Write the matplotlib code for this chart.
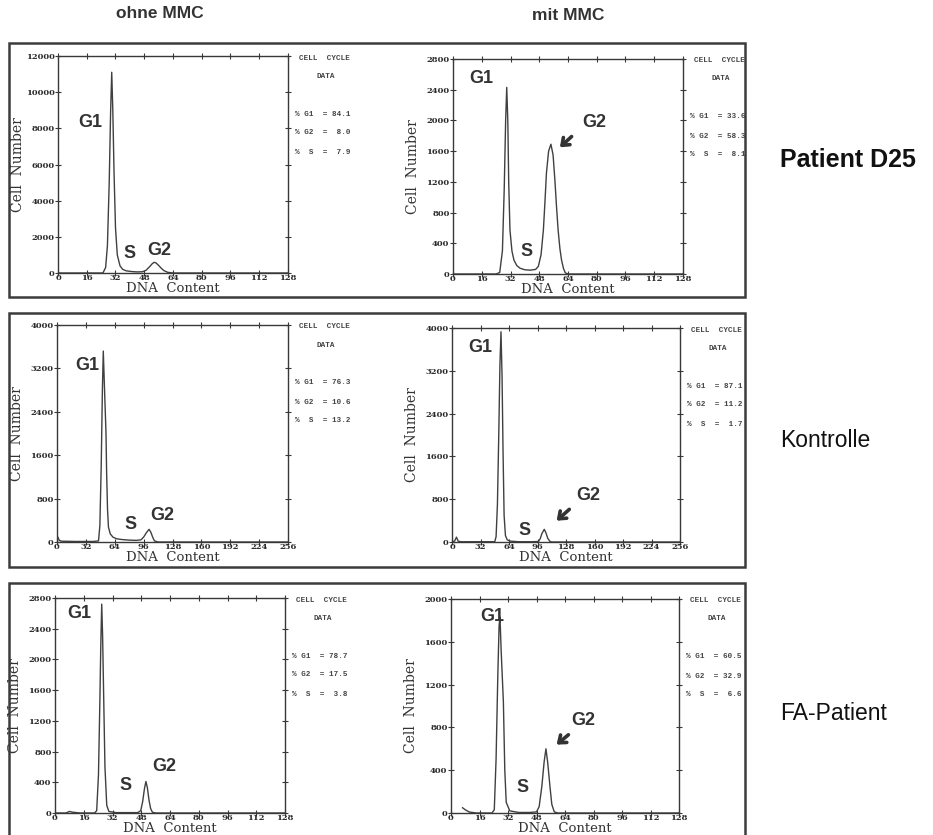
import matplotlib
matplotlib.use("Agg")
import matplotlib.pyplot as plt
from matplotlib.patches import Rectangle

# DNA histograms (channel, cell count) for each condition
d25_ohne_x = [0, 20, 25, 26.5, 27.5, 28.5, 29.3, 29.9, 30.5, 31.2, 32, 33, 34.5, 36, 38, 41, 44, 47, 49, 51, 52.5, 53.5, 54.5, 56, 57.5, 59, 61, 64, 128]
d25_ohne_y = [0, 0, 0, 300, 1500, 5000, 9000, 11100, 9000, 5500, 2500, 1000, 400, 200, 120, 80, 60, 70, 150, 350, 520, 590, 560, 420, 260, 130, 40, 0, 0]

d25_mit_x = [0, 24, 26, 27.5, 28.5, 29.3, 29.9, 30.5, 31, 31.7, 32.8, 33.9, 35.5, 37.3, 40, 43, 46, 47.5, 49, 50.3, 51.2, 52, 53.2, 54.5, 55.7, 56.7, 57.6, 58.5, 59.5, 60.4, 61.5, 62.5, 64, 128]
d25_mit_y = [0, 0, 20, 300, 1100, 2000, 2430, 2000, 1200, 573, 300, 182, 110, 75, 55, 50, 60, 100, 250, 573, 950, 1315, 1600, 1690, 1550, 1224, 880, 573, 330, 182, 70, 15, 0, 0]

ktr_ohne_x = [0, 1, 2.5, 5, 20, 40, 46, 47.5, 49, 50.3, 51.3, 52.3, 53.3, 54.3, 55, 56, 57, 59, 62, 66, 72, 80, 88, 93, 96, 99, 102, 104, 106, 108, 112, 256]
ktr_ohne_y = [60, 90, 30, 15, 10, 10, 20, 300, 1400, 2800, 3520, 3000, 2500, 2009, 1270, 600, 276, 150, 90, 60, 45, 35, 30, 40, 90, 170, 234, 180, 90, 20, 0, 0]

ktr_mit_x = [0, 3, 5, 7, 10, 30, 48, 49.5, 51, 52.5, 53.8, 55, 56.2, 57.3, 58.5, 60, 62, 66, 75, 90, 97, 99, 101, 103.6, 105.5, 107.5, 110, 112, 256]
ktr_mit_y = [0, 20, 90, 15, 5, 5, 5, 100, 700, 2000, 3300, 3930, 3100, 1700, 500, 120, 40, 15, 5, 5, 10, 60, 160, 237, 170, 70, 10, 0, 0]

fa_ohne_x = [0, 6, 8, 10, 14, 22, 23.2, 24.2, 25, 25.5, 26, 26.5, 27.1, 27.8, 28.8, 30, 34, 40, 46, 47.7, 48.8, 49.8, 50.6, 51.4, 52.3, 53.2, 54.2, 56, 128]
fa_ohne_y = [0, 0, 20, 10, 0, 0, 30, 500, 1500, 2200, 2720, 2300, 1500, 600, 100, 20, 5, 5, 5, 30, 150, 320, 410, 330, 170, 60, 10, 0, 0]

fa_mit_x = [6.5, 8, 10.3, 14, 23, 24.3, 25.3, 26.3, 27, 27.5, 28.2, 29.4, 30.2, 31, 33, 38, 44, 48, 49.5, 51, 52.3, 53.3, 54.3, 55.6, 56.6, 58, 60, 128]
fa_mit_y = [49, 30, 9, 0, 0, 30, 500, 1300, 1750, 1830, 1500, 1041, 400, 100, 20, 5, 5, 10, 60, 250, 480, 600, 470, 240, 80, 10, 0, 0]

# percentages printed by the analysis software (G1, G2, S)
pct_g1 = [84.1, 33.6, 76.3, 87.1, 78.7, 60.5]
pct_g2 = [8.0, 58.3, 10.6, 11.2, 17.5, 32.9]
pct_s = [7.9, 8.1, 13.2, 1.7, 3.8, 6.6]

x_max = [128, 128, 256, 256, 128, 128]
y_max = [12000, 2800, 4000, 4000, 2800, 2000]
y_step = [2000, 400, 800, 800, 400, 400]

col_titles = ["ohne MMC", "mit MMC"]
row_titles = ["Patient D25", "Kontrolle", "FA-Patient"]

curves = [(d25_ohne_x, d25_ohne_y), (d25_mit_x, d25_mit_y),
          (ktr_ohne_x, ktr_ohne_y), (ktr_mit_x, ktr_mit_y),
          (fa_ohne_x, fa_ohne_y), (fa_mit_x, fa_mit_y)]

# label positions in data units: G1, S, G2
lab_g1 = [(17.8, 8300), (16.0, 2540), (33.3, 3260), (31.4, 3640), (13.4, 2600), (23.3, 1840)]
lab_s = [(39.8, 1100), (41.0, 295), (81.5, 330), (81.6, 215), (39.3, 360), (39.9, 235)]
lab_g2 = [(56.5, 1270), (78.5, 1970), (116.4, 480), (153.4, 870), (60.7, 600), (74.4, 860)]
# arrows pointing at the G2 peak (tail, head), None where there is no arrow
g2_arrow = [None, ((66, 1790), (59.5, 1650)), None, ((131.7, 610), (117.5, 398)),
            None, ((65.9, 731), (59.3, 639))]

W, H = 933, 835
fig = plt.figure(figsize=(W / 100, H / 100), dpi=100)
fig.patch.set_facecolor("white")

INK = "#383838"

def frac(x0, y0, x1, y1):
    return [x0 / W, 1 - y1 / H, (x1 - x0) / W, (y1 - y0) / H]

# axes boxes in pixels (left, top, right, bottom)
boxes = [(58, 56, 288, 273), (453, 59, 683, 274),
         (57, 325, 288, 542), (452, 328, 680, 542),
         (55, 598, 285, 813), (451, 599, 679, 813)]

# frames around each row
for top, bottom in [(43, 297), (313, 567), (583, 850)]:
    fig.add_artist(Rectangle((9 / W, 1 - bottom / H), (745 - 9) / W, (bottom - top) / H,
                             transform=fig.transFigure, fill=False, lw=1.8, ec="#3c3c3c"))

for i, (l, t, r, b) in enumerate(boxes):
    ax = fig.add_axes(frac(l, t, r, b))
    xs, ys = curves[i]
    ax.plot(xs, ys, color="#404040", lw=1.0)
    ax.set_xlim(0, x_max[i])
    ax.set_ylim(0, y_max[i])
    ax.set_xticks(range(0, x_max[i] + 1, x_max[i] // 8))
    ax.set_yticks(range(0, y_max[i] + 1, y_step[i]))
    for sp in ax.spines.values():
        sp.set_color(INK)
        sp.set_linewidth(1.0)
    ax.tick_params(direction="inout", length=4, width=0.8, color=INK, top=True, right=True,
                   labelsize=6, labelcolor="#2a2a2a")
    ax.tick_params(axis="x", pad=-1.2)
    ax.tick_params(axis="y", pad=0.5)
    for lab in ax.get_xticklabels() + ax.get_yticklabels():
        lab.set_family("DejaVu Serif")
        lab.set_fontweight("bold")
    ax.set_xlabel("DNA  Content", family="DejaVu Serif", fontsize=9.5, color="#333333")
    ax.set_ylabel("Cell  Number", family="DejaVu Serif", fontsize=10, color="#333333")
    ax.xaxis.set_label_coords(0.5, -15.5 / (b - t))
    ax.yaxis.set_label_coords(-40 / (r - l), 0.5)
    ax.xaxis.label.set_va("center")
    ax.yaxis.label.set_va("center")

    lab_kw = dict(fontsize=13, fontweight="bold", family="Liberation Sans", color="#333333",
                  ha="center", va="center")
    ax.text(*lab_g1[i], "G1", **lab_kw)
    ax.text(*lab_s[i], "S", **lab_kw)
    ax.text(*lab_g2[i], "G2", **lab_kw)
    if g2_arrow[i] is not None:
        tail, head = g2_arrow[i]
        ax.annotate("", xy=head, xytext=tail,
                    arrowprops=dict(arrowstyle="->,head_length=0.45,head_width=0.35",
                                    lw=2.6, color="#333333", shrinkA=0, shrinkB=0))

    # cell cycle summary printed next to each histogram
    mono = dict(family="Liberation Mono", fontweight="bold", fontsize=5.5, color="#444444")
    fig.text((r + 36) / W, 1 - (t + 2) / H, "CELL  CYCLE", ha="center", va="center", **mono)
    fig.text((r + 38) / W, 1 - (t + 20) / H, "DATA", ha="center", va="center", **mono)
    rows = [("G1", pct_g1[i]), ("G2", pct_g2[i]), ("S", pct_s[i])]
    for k, (name, val) in enumerate(rows):
        fig.text((r + 7) / W, 1 - (t + 58 + 19 * k) / H, f"% {name:>2s}  = {val:4.1f}",
                 ha="left", va="center", **mono)

for c, title in enumerate(col_titles):
    fig.text([160, 568][c] / W, 1 - [13, 15][c] / H, title, ha="center", va="center",
             fontsize=12.5, fontweight="bold", family="Liberation Sans", color="#333333")

for k, title in enumerate(row_titles):
    fig.text(780 / W, 1 - [160, 440, 713][k] / H, title, ha="left", va="center",
             fontsize=18 if k == 0 else 16.5, fontweight="bold" if k == 0 else "normal",
             family="Liberation Sans", color="#111111")

fig.savefig("out.png", dpi=100, facecolor="white")
